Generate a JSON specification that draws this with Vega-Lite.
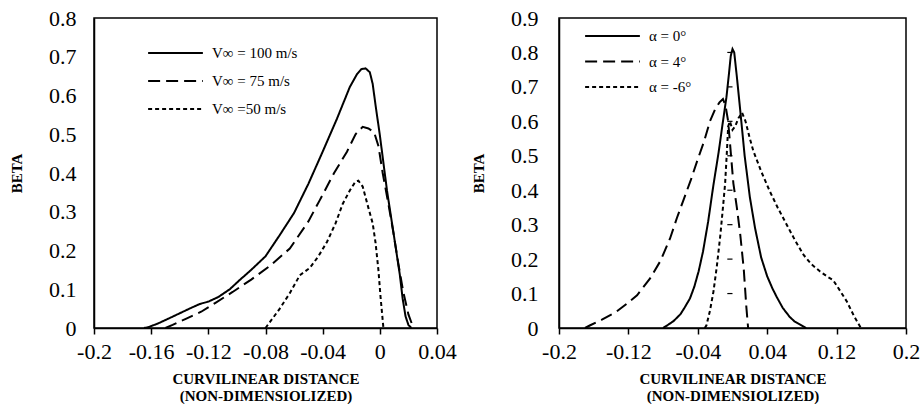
{
  "$schema": "https://vega.github.io/schema/vega-lite/v6.json",
  "padding": {"left": 8, "top": 6, "right": 14, "bottom": 0},
  "background": "white",
  "config": {
    "font": "Liberation Serif",
    "view": {"stroke": "black", "strokeWidth": 1.5},
    "axis": {
      "grid": false,
      "labelFont": "Liberation Serif",
      "labelFontSize": 22,
      "labelColor": "black",
      "labelOverlap": false,
      "domainColor": "black",
      "domainWidth": 1.5,
      "tickColor": "black",
      "tickWidth": 1.5,
      "titleFont": "Liberation Serif",
      "titleFontSize": 15,
      "titleFontWeight": "bold",
      "titleColor": "black"
    },
    "axisX": {"tickSize": 6, "labelPadding": 7, "titlePadding": 9, "titleLineHeight": 17, "labelFlush": false},
    "axisY": {"tickSize": 0, "labelPadding": 18, "titlePadding": 24},
    "legend": {
      "title": null,
      "symbolType": "stroke",
      "symbolStrokeColor": "black",
      "symbolStrokeWidth": 2,
      "symbolSize": 3000,
      "clipHeight": 18,
      "labelFont": "Liberation Serif",
      "labelFontSize": 15,
      "labelColor": "black",
      "labelOffset": 8,
      "orient": "none"
    }
  },
  "datasets": {
    "left": [
      {"x": -0.165, "beta": 0, "v": "V∞ = 100 m/s"},
      {"x": -0.162, "beta": 0.002, "v": "V∞ = 100 m/s"},
      {"x": -0.155, "beta": 0.012, "v": "V∞ = 100 m/s"},
      {"x": -0.148, "beta": 0.024, "v": "V∞ = 100 m/s"},
      {"x": -0.14, "beta": 0.038, "v": "V∞ = 100 m/s"},
      {"x": -0.132, "beta": 0.052, "v": "V∞ = 100 m/s"},
      {"x": -0.126, "beta": 0.062, "v": "V∞ = 100 m/s"},
      {"x": -0.12, "beta": 0.068, "v": "V∞ = 100 m/s"},
      {"x": -0.113, "beta": 0.08, "v": "V∞ = 100 m/s"},
      {"x": -0.105, "beta": 0.1, "v": "V∞ = 100 m/s"},
      {"x": -0.098, "beta": 0.124, "v": "V∞ = 100 m/s"},
      {"x": -0.09, "beta": 0.15, "v": "V∞ = 100 m/s"},
      {"x": -0.08, "beta": 0.185, "v": "V∞ = 100 m/s"},
      {"x": -0.07, "beta": 0.24, "v": "V∞ = 100 m/s"},
      {"x": -0.06, "beta": 0.297, "v": "V∞ = 100 m/s"},
      {"x": -0.05, "beta": 0.372, "v": "V∞ = 100 m/s"},
      {"x": -0.04, "beta": 0.455, "v": "V∞ = 100 m/s"},
      {"x": -0.03, "beta": 0.54, "v": "V∞ = 100 m/s"},
      {"x": -0.021, "beta": 0.622, "v": "V∞ = 100 m/s"},
      {"x": -0.016, "beta": 0.655, "v": "V∞ = 100 m/s"},
      {"x": -0.013, "beta": 0.668, "v": "V∞ = 100 m/s"},
      {"x": -0.01, "beta": 0.67, "v": "V∞ = 100 m/s"},
      {"x": -0.007, "beta": 0.66, "v": "V∞ = 100 m/s"},
      {"x": -0.005, "beta": 0.63, "v": "V∞ = 100 m/s"},
      {"x": -0.003, "beta": 0.575, "v": "V∞ = 100 m/s"},
      {"x": 0, "beta": 0.498, "v": "V∞ = 100 m/s"},
      {"x": 0.005, "beta": 0.355, "v": "V∞ = 100 m/s"},
      {"x": 0.01, "beta": 0.235, "v": "V∞ = 100 m/s"},
      {"x": 0.014, "beta": 0.137, "v": "V∞ = 100 m/s"},
      {"x": 0.016, "beta": 0.075, "v": "V∞ = 100 m/s"},
      {"x": 0.018, "beta": 0.03, "v": "V∞ = 100 m/s"},
      {"x": 0.02, "beta": 0.008, "v": "V∞ = 100 m/s"},
      {"x": 0.022, "beta": 0, "v": "V∞ = 100 m/s"},
      {"x": -0.15, "beta": 0, "v": "V∞ = 75 m/s"},
      {"x": -0.145, "beta": 0.008, "v": "V∞ = 75 m/s"},
      {"x": -0.135, "beta": 0.025, "v": "V∞ = 75 m/s"},
      {"x": -0.125, "beta": 0.042, "v": "V∞ = 75 m/s"},
      {"x": -0.115, "beta": 0.065, "v": "V∞ = 75 m/s"},
      {"x": -0.103, "beta": 0.093, "v": "V∞ = 75 m/s"},
      {"x": -0.09, "beta": 0.125, "v": "V∞ = 75 m/s"},
      {"x": -0.077, "beta": 0.16, "v": "V∞ = 75 m/s"},
      {"x": -0.063, "beta": 0.205, "v": "V∞ = 75 m/s"},
      {"x": -0.05, "beta": 0.275, "v": "V∞ = 75 m/s"},
      {"x": -0.042, "beta": 0.33, "v": "V∞ = 75 m/s"},
      {"x": -0.032, "beta": 0.4, "v": "V∞ = 75 m/s"},
      {"x": -0.023, "beta": 0.455, "v": "V∞ = 75 m/s"},
      {"x": -0.017, "beta": 0.5, "v": "V∞ = 75 m/s"},
      {"x": -0.012, "beta": 0.519, "v": "V∞ = 75 m/s"},
      {"x": -0.008, "beta": 0.515, "v": "V∞ = 75 m/s"},
      {"x": -0.004, "beta": 0.505, "v": "V∞ = 75 m/s"},
      {"x": -0.001, "beta": 0.47, "v": "V∞ = 75 m/s"},
      {"x": 0.002, "beta": 0.4, "v": "V∞ = 75 m/s"},
      {"x": 0.006, "beta": 0.32, "v": "V∞ = 75 m/s"},
      {"x": 0.0094, "beta": 0.248, "v": "V∞ = 75 m/s"},
      {"x": 0.013, "beta": 0.165, "v": "V∞ = 75 m/s"},
      {"x": 0.0164, "beta": 0.093, "v": "V∞ = 75 m/s"},
      {"x": 0.02, "beta": 0.035, "v": "V∞ = 75 m/s"},
      {"x": 0.0235, "beta": 0, "v": "V∞ = 75 m/s"},
      {"x": -0.08, "beta": 0, "v": "V∞ =50 m/s"},
      {"x": -0.075, "beta": 0.025, "v": "V∞ =50 m/s"},
      {"x": -0.07, "beta": 0.05, "v": "V∞ =50 m/s"},
      {"x": -0.063, "beta": 0.09, "v": "V∞ =50 m/s"},
      {"x": -0.056, "beta": 0.136, "v": "V∞ =50 m/s"},
      {"x": -0.049, "beta": 0.155, "v": "V∞ =50 m/s"},
      {"x": -0.043, "beta": 0.185, "v": "V∞ =50 m/s"},
      {"x": -0.037, "beta": 0.222, "v": "V∞ =50 m/s"},
      {"x": -0.031, "beta": 0.27, "v": "V∞ =50 m/s"},
      {"x": -0.026, "beta": 0.32, "v": "V∞ =50 m/s"},
      {"x": -0.021, "beta": 0.355, "v": "V∞ =50 m/s"},
      {"x": -0.017, "beta": 0.378, "v": "V∞ =50 m/s"},
      {"x": -0.015, "beta": 0.38, "v": "V∞ =50 m/s"},
      {"x": -0.012, "beta": 0.365, "v": "V∞ =50 m/s"},
      {"x": -0.008, "beta": 0.31, "v": "V∞ =50 m/s"},
      {"x": -0.005, "beta": 0.27, "v": "V∞ =50 m/s"},
      {"x": -0.003, "beta": 0.22, "v": "V∞ =50 m/s"},
      {"x": -0.001, "beta": 0.15, "v": "V∞ =50 m/s"},
      {"x": 0.0005, "beta": 0.08, "v": "V∞ =50 m/s"},
      {"x": 0.0025, "beta": 0, "v": "V∞ =50 m/s"}
    ],
    "right": [
      {"x": -0.08, "beta": 0, "a": "α = 0°"},
      {"x": -0.075, "beta": 0.008, "a": "α = 0°"},
      {"x": -0.068, "beta": 0.02, "a": "α = 0°"},
      {"x": -0.06, "beta": 0.04, "a": "α = 0°"},
      {"x": -0.055, "beta": 0.06, "a": "α = 0°"},
      {"x": -0.049, "beta": 0.086, "a": "α = 0°"},
      {"x": -0.044, "beta": 0.12, "a": "α = 0°"},
      {"x": -0.039, "beta": 0.165, "a": "α = 0°"},
      {"x": -0.034, "beta": 0.222, "a": "α = 0°"},
      {"x": -0.028, "beta": 0.31, "a": "α = 0°"},
      {"x": -0.022, "beta": 0.415, "a": "α = 0°"},
      {"x": -0.016, "beta": 0.51, "a": "α = 0°"},
      {"x": -0.011, "beta": 0.6, "a": "α = 0°"},
      {"x": -0.007, "beta": 0.67, "a": "α = 0°"},
      {"x": -0.004, "beta": 0.74, "a": "α = 0°"},
      {"x": -0.002, "beta": 0.79, "a": "α = 0°"},
      {"x": 0, "beta": 0.81, "a": "α = 0°"},
      {"x": 0.002, "beta": 0.8, "a": "α = 0°"},
      {"x": 0.005, "beta": 0.73, "a": "α = 0°"},
      {"x": 0.009, "beta": 0.63, "a": "α = 0°"},
      {"x": 0.014, "beta": 0.5, "a": "α = 0°"},
      {"x": 0.02, "beta": 0.38, "a": "α = 0°"},
      {"x": 0.026, "beta": 0.29, "a": "α = 0°"},
      {"x": 0.033, "beta": 0.205, "a": "α = 0°"},
      {"x": 0.04, "beta": 0.15, "a": "α = 0°"},
      {"x": 0.046, "beta": 0.115, "a": "α = 0°"},
      {"x": 0.051, "beta": 0.09, "a": "α = 0°"},
      {"x": 0.058, "beta": 0.058, "a": "α = 0°"},
      {"x": 0.066, "beta": 0.032, "a": "α = 0°"},
      {"x": 0.072, "beta": 0.018, "a": "α = 0°"},
      {"x": 0.078, "beta": 0.01, "a": "α = 0°"},
      {"x": 0.085, "beta": 0, "a": "α = 0°"},
      {"x": -0.17, "beta": 0, "a": "α = 4°"},
      {"x": -0.164, "beta": 0.008, "a": "α = 4°"},
      {"x": -0.15, "beta": 0.025, "a": "α = 4°"},
      {"x": -0.134, "beta": 0.047, "a": "α = 4°"},
      {"x": -0.122, "beta": 0.07, "a": "α = 4°"},
      {"x": -0.11, "beta": 0.095, "a": "α = 4°"},
      {"x": -0.095, "beta": 0.144, "a": "α = 4°"},
      {"x": -0.083, "beta": 0.195, "a": "α = 4°"},
      {"x": -0.072, "beta": 0.26, "a": "α = 4°"},
      {"x": -0.064, "beta": 0.32, "a": "α = 4°"},
      {"x": -0.056, "beta": 0.375, "a": "α = 4°"},
      {"x": -0.048, "beta": 0.43, "a": "α = 4°"},
      {"x": -0.04, "beta": 0.49, "a": "α = 4°"},
      {"x": -0.033, "beta": 0.54, "a": "α = 4°"},
      {"x": -0.026, "beta": 0.6, "a": "α = 4°"},
      {"x": -0.02, "beta": 0.635, "a": "α = 4°"},
      {"x": -0.015, "beta": 0.655, "a": "α = 4°"},
      {"x": -0.011, "beta": 0.665, "a": "α = 4°"},
      {"x": -0.008, "beta": 0.645, "a": "α = 4°"},
      {"x": -0.005, "beta": 0.6, "a": "α = 4°"},
      {"x": -0.002, "beta": 0.51, "a": "α = 4°"},
      {"x": 0.001, "beta": 0.42, "a": "α = 4°"},
      {"x": 0.005, "beta": 0.35, "a": "α = 4°"},
      {"x": 0.009, "beta": 0.27, "a": "α = 4°"},
      {"x": 0.013, "beta": 0.17, "a": "α = 4°"},
      {"x": 0.016, "beta": 0.06, "a": "α = 4°"},
      {"x": 0.018, "beta": 0, "a": "α = 4°"},
      {"x": -0.032, "beta": 0, "a": "α = -6°"},
      {"x": -0.03, "beta": 0.008, "a": "α = -6°"},
      {"x": -0.026, "beta": 0.05, "a": "α = -6°"},
      {"x": -0.022, "beta": 0.105, "a": "α = -6°"},
      {"x": -0.018, "beta": 0.18, "a": "α = -6°"},
      {"x": -0.014, "beta": 0.27, "a": "α = -6°"},
      {"x": -0.011, "beta": 0.35, "a": "α = -6°"},
      {"x": -0.0085, "beta": 0.42, "a": "α = -6°"},
      {"x": -0.0065, "beta": 0.51, "a": "α = -6°"},
      {"x": -0.005, "beta": 0.585, "a": "α = -6°"},
      {"x": -0.003, "beta": 0.6, "a": "α = -6°"},
      {"x": 0, "beta": 0.575, "a": "α = -6°"},
      {"x": 0.003, "beta": 0.585, "a": "α = -6°"},
      {"x": 0.007, "beta": 0.61, "a": "α = -6°"},
      {"x": 0.011, "beta": 0.625, "a": "α = -6°"},
      {"x": 0.015, "beta": 0.6, "a": "α = -6°"},
      {"x": 0.02, "beta": 0.55, "a": "α = -6°"},
      {"x": 0.024, "beta": 0.514, "a": "α = -6°"},
      {"x": 0.033, "beta": 0.455, "a": "α = -6°"},
      {"x": 0.043, "beta": 0.397, "a": "α = -6°"},
      {"x": 0.052, "beta": 0.35, "a": "α = -6°"},
      {"x": 0.0625, "beta": 0.3, "a": "α = -6°"},
      {"x": 0.072, "beta": 0.255, "a": "α = -6°"},
      {"x": 0.082, "beta": 0.212, "a": "α = -6°"},
      {"x": 0.091, "beta": 0.185, "a": "α = -6°"},
      {"x": 0.101, "beta": 0.164, "a": "α = -6°"},
      {"x": 0.11, "beta": 0.148, "a": "α = -6°"},
      {"x": 0.116, "beta": 0.139, "a": "α = -6°"},
      {"x": 0.124, "beta": 0.108, "a": "α = -6°"},
      {"x": 0.132, "beta": 0.076, "a": "α = -6°"},
      {"x": 0.14, "beta": 0.035, "a": "α = -6°"},
      {"x": 0.145, "beta": 0.013, "a": "α = -6°"},
      {"x": 0.148, "beta": 0, "a": "α = -6°"}
    ],
    "rticks": [
      {"x": -0.006, "x2": 0, "beta": 0.1},
      {"x": -0.006, "x2": 0, "beta": 0.2},
      {"x": -0.006, "x2": 0, "beta": 0.3},
      {"x": -0.006, "x2": 0, "beta": 0.4},
      {"x": -0.006, "x2": 0, "beta": 0.5},
      {"x": -0.006, "x2": 0, "beta": 0.6},
      {"x": -0.006, "x2": 0, "beta": 0.7},
      {"x": -0.006, "x2": 0, "beta": 0.8}
    ]
  },
  "bounds": "flush",
  "spacing": 122,
  "resolve": {
    "scale": {"strokeDash": "independent", "x": "independent", "y": "independent"},
    "legend": {"strokeDash": "independent"}
  },
  "hconcat": [
    {
      "width": 343,
      "height": 310,
      "layer": [
        {
          "data": {"name": "left"},
          "mark": {"type": "line", "color": "black", "strokeWidth": 2},
          "encoding": {
            "x": {
              "field": "x", "type": "quantitative",
              "scale": {"domain": [-0.2, 0.04], "nice": false, "zero": false},
              "axis": {
                "values": [-0.2, -0.16, -0.12, -0.08, -0.04, 0, 0.04],
                "labelExpr": "'' + round(datum.value * 100) / 100",
                "title": ["CURVILINEAR DISTANCE", "(NON-DIMENSIOLIZED)"]
              }
            },
            "y": {
              "field": "beta", "type": "quantitative",
              "scale": {"domain": [0, 0.8], "nice": false},
              "axis": {
                "values": [0, 0.1, 0.2, 0.3, 0.4, 0.5, 0.6, 0.7, 0.8],
                "labelExpr": "'' + round(datum.value * 10) / 10",
                "title": "BETA"
              }
            },
            "strokeDash": {
              "field": "v", "type": "nominal",
              "scale": {
                "domain": ["V∞ = 100 m/s", "V∞ = 75 m/s", "V∞ =50 m/s"],
                "range": [[1, 0], [12, 6], [4, 3]]
              },
              "legend": {"legendX": 53, "legendY": 26, "rowPadding": 10}
            }
          }
        },
        {
          "mark": {"type": "rule", "color": "black", "strokeWidth": 1.5, "strokeDash": [5, 4]},
          "encoding": {"x": {"datum": 0}}
        }
      ]
    },
    {
      "width": 347,
      "height": 310,
      "layer": [
        {
          "data": {"name": "right"},
          "mark": {"type": "line", "color": "black", "strokeWidth": 2},
          "encoding": {
            "x": {
              "field": "x", "type": "quantitative",
              "scale": {"domain": [-0.2, 0.2], "nice": false, "zero": false},
              "axis": {
                "values": [-0.2, -0.12, -0.04, 0.04, 0.12, 0.2],
                "labelExpr": "'' + round(datum.value * 100) / 100",
                "title": ["CURVILINEAR DISTANCE", "(NON-DIMENSIOLIZED)"]
              }
            },
            "y": {
              "field": "beta", "type": "quantitative",
              "scale": {"domain": [0, 0.9], "nice": false},
              "axis": {
                "values": [0, 0.1, 0.2, 0.3, 0.4, 0.5, 0.6, 0.7, 0.8, 0.9],
                "labelExpr": "'' + round(datum.value * 10) / 10",
                "labelPadding": 21,
                "title": "BETA"
              }
            },
            "strokeDash": {
              "field": "a", "type": "nominal",
              "scale": {
                "domain": ["α = 0°", "α = 4°", "α = -6°"],
                "range": [[1, 0], [12, 6], [4, 3]]
              },
              "legend": {"legendX": 25, "legendY": 9, "rowPadding": 7.5}
            }
          }
        },
        {
          "data": {"name": "rticks"},
          "mark": {"type": "rule", "color": "black", "strokeWidth": 1.2},
          "encoding": {
            "x": {
              "field": "x", "type": "quantitative",
              "scale": {"domain": [-0.2, 0.2], "nice": false, "zero": false},
              "axis": {
                "values": [-0.2, -0.12, -0.04, 0.04, 0.12, 0.2],
                "labelExpr": "'' + round(datum.value * 100) / 100",
                "title": ["CURVILINEAR DISTANCE", "(NON-DIMENSIOLIZED)"]
              }
            },
            "x2": {"field": "x2"},
            "y": {
              "field": "beta", "type": "quantitative",
              "scale": {"domain": [0, 0.9], "nice": false},
              "axis": {
                "values": [0, 0.1, 0.2, 0.3, 0.4, 0.5, 0.6, 0.7, 0.8, 0.9],
                "labelExpr": "'' + round(datum.value * 10) / 10",
                "labelPadding": 21,
                "title": "BETA"
              }
            }
          }
        },
        {
          "mark": {"type": "rule", "color": "black", "strokeWidth": 1.5, "strokeDash": [5, 4]},
          "encoding": {"x": {"datum": 0}}
        }
      ]
    }
  ]
}
